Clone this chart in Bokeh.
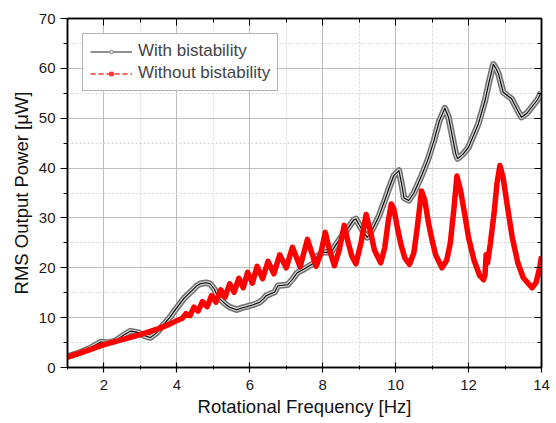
from bokeh.plotting import figure
from bokeh.models import (Range1d, LinearAxis, SingleIntervalTicker, Legend, LegendItem,
                          CustomLabelingPolicy)
from bokeh.embed import file_html
from bokeh.resources import INLINE

# ---- data ----
red_f = [1.0, 1.5, 2.0, 2.5, 3.0, 3.5, 3.8, 4.0, 4.15, 4.25, 4.36, 4.47, 4.58, 4.70, 4.83,
         4.95, 5.07, 5.20, 5.32, 5.45, 5.57, 5.70, 5.82, 5.94, 6.07, 6.20, 6.35, 6.50, 6.66,
         6.82, 7.00, 7.17, 7.38, 7.58, 7.82, 7.95, 8.07, 8.17, 8.32, 8.45, 8.59, 8.70, 8.80,
         8.91, 9.05, 9.19, 9.30, 9.42, 9.59, 9.70, 9.80, 9.88, 9.95, 10.05, 10.15, 10.25,
         10.38, 10.50, 10.60, 10.71, 10.80, 10.90, 11.00, 11.10, 11.27, 11.40, 11.50, 11.60,
         11.68, 11.78, 11.90, 12.00, 12.15, 12.30, 12.41, 12.45, 12.48, 12.52, 12.60, 12.70,
         12.78, 12.86, 12.95, 13.05, 13.20, 13.35, 13.50, 13.74, 13.85, 13.95, 14.00]
red_p = [2.1, 3.3, 4.6, 5.6, 6.6, 7.8, 8.7, 9.4, 9.9, 10.8, 10.4, 12.1, 11.3, 13.2, 12.2,
         14.4, 13.1, 15.6, 14.1, 16.8, 15.1, 17.9, 16.0, 19.1, 16.9, 20.3, 17.8, 21.3, 18.8,
         22.6, 20.0, 24.1, 20.2, 25.7, 20.3, 23.0, 27.1, 24.0, 20.4, 23.5, 28.5, 25.0, 22.3,
         20.8, 25.0, 30.7, 27.5, 23.5, 21.0, 24.0, 29.5, 32.8, 31.8, 28.0, 24.5, 22.0,
         20.7, 23.0, 28.5, 35.4, 33.5, 29.0, 25.5, 22.5, 20.0, 21.5, 25.0, 32.0,
         38.4, 35.5, 30.5, 26.0, 21.5, 18.5, 17.6, 18.5, 22.6, 21.0, 25.0, 31.0,
         37.0, 40.5, 38.0, 33.0, 26.0, 21.0, 18.0, 16.0, 17.0, 20.0, 22.3]

black_f = [1.0, 1.3, 1.6, 1.91, 2.1, 2.3, 2.5, 2.73, 2.95, 3.1, 3.27, 3.45, 3.6, 3.8, 4.0,
           4.2, 4.4, 4.55, 4.64, 4.80, 4.91, 5.02, 5.13, 5.23, 5.35, 5.45, 5.64, 5.80, 5.91,
           6.1, 6.27, 6.38, 6.45, 6.60, 6.68, 6.77, 7.04, 7.18, 7.30, 7.50, 7.73, 7.85, 8.00,
           8.23, 8.35, 8.50, 8.70, 8.85, 8.91, 9.00, 9.09, 9.22, 9.35, 9.55, 9.70, 9.82, 9.95,
           10.09, 10.16, 10.23, 10.36, 10.50, 10.73, 10.90, 11.05, 11.20, 11.35, 11.45, 11.55,
           11.65, 11.70, 11.85, 12.00, 12.27, 12.45, 12.55, 12.68, 12.75, 12.82, 12.95, 13.18,
           13.35, 13.45, 13.60, 13.73, 13.88, 14.00]
black_p = [2.2, 2.9, 3.8, 5.1, 5.0, 5.3, 6.3, 7.3, 7.0, 6.4, 6.0, 7.0, 8.3, 10.0, 12.0,
           13.9, 15.3, 16.4, 16.8, 17.0, 16.8, 15.8, 14.1, 13.4, 12.6, 12.1, 11.6, 12.0, 12.2,
           12.6, 13.1, 13.8, 14.4, 14.9, 15.1, 16.4, 16.6, 17.8, 19.0, 19.8, 20.8, 22.3, 23.1,
           23.1, 24.5, 26.1, 28.0, 29.6, 29.8, 28.6, 27.5, 26.1, 27.5, 30.5, 33.5, 36.0, 38.5,
           39.5, 37.0, 34.0, 33.5, 35.0, 38.8, 42.0, 45.5, 49.5, 52.0, 50.2, 46.5,
           42.8, 41.9, 42.8, 44.2, 48.9, 53.5, 56.9, 60.8, 60.0, 58.9, 55.2, 53.9,
           51.5, 50.2, 51.0, 52.2, 53.6, 55.2]

x_label = "Rotational Frequency [Hz]"
y_label = "RMS Output Power [\u03bcW]"
series_names = ["With bistability", "Without bistability"]

FONT = "Liberation Sans"

p = figure(width=556, height=423, x_range=Range1d(1, 14), y_range=Range1d(0, 70),
           output_backend="svg", toolbar_location=None,
           min_border_left=67, min_border_right=12, min_border_top=18, min_border_bottom=56)
p.background_fill_color = "white"
p.border_fill_color = "white"
p.outline_line_color = "black"
p.outline_line_width = 1.5

xt = SingleIntervalTicker(interval=2, num_minor_ticks=2)
yt = SingleIntervalTicker(interval=10, num_minor_ticks=2)

for ax, t in ((p.xaxis[0], xt), (p.yaxis[0], yt)):
    ax.ticker = t
    ax.axis_line_width = 1.5
    ax.axis_line_color = "black"
    ax.major_tick_line_color = "black"
    ax.minor_tick_line_color = "black"
    ax.major_tick_line_width = 1.2
    ax.major_label_text_font = FONT
    ax.major_label_text_font_size = "15px"
    ax.major_label_text_color = "#1a1a1a"
    ax.axis_label_text_font = FONT
    ax.axis_label_text_font_size = "18.5px"
    ax.axis_label_text_font_style = "normal"
    ax.axis_label_text_color = "#111111"

p.xaxis.axis_label = x_label
p.yaxis.axis_label = y_label
p.xaxis.major_tick_in = 5
p.xaxis.major_tick_out = 5
p.xaxis.minor_tick_in = 2
p.xaxis.minor_tick_out = 2
p.xaxis.major_label_standoff = 7
p.xaxis.axis_label_standoff = 3
p.yaxis.major_tick_in = 0
p.yaxis.major_tick_out = 7
p.yaxis.minor_tick_in = 0
p.yaxis.minor_tick_out = 4
p.yaxis.major_label_standoff = 5
p.yaxis.axis_label_standoff = 4

no_labels = CustomLabelingPolicy(code="""
for (const i of indices) { indices.unset(i) }
return indices
""")

top = LinearAxis(ticker=xt, major_label_policy=no_labels, major_label_standoff=0,
                 major_tick_in=7, major_tick_out=0, minor_tick_in=4, minor_tick_out=0,
                 axis_line_width=1.5)
right = LinearAxis(ticker=yt, major_label_policy=no_labels, major_label_standoff=0,
                   major_tick_in=7, major_tick_out=0, minor_tick_in=4, minor_tick_out=0,
                   axis_line_width=1.5)
p.add_layout(top, "above")
p.add_layout(right, "right")

for g, t in ((p.xgrid[0], xt), (p.ygrid[0], yt)):
    g.ticker = t
    g.grid_line_color = "#bdbdbd"
    g.grid_line_width = 1
    g.minor_grid_line_color = "#d6d6d6"
    g.minor_grid_line_dash = "2 2"

# black series: hollow gray marker band with black line
p.line(black_f, black_p, color="#707070", line_width=6.5, line_join="round")
p.line(black_f, black_p, color="#d4d4d4", line_width=3.5, line_join="round")
p.line(black_f, black_p, color="black", line_width=1.1, line_join="round")
# red series
p.line(red_f, red_p, color="#ff0000", line_width=5.5, line_join="round")

# legend-only renderers placed outside the visible ranges
off = [-100]
lb_line = p.line(off, off, color="#222222", line_width=1.2)
lb_mark = p.scatter(off, off, marker="circle", size=3.5, fill_color="#dddddd",
                    line_color="#777777", line_width=0.8)
lr_line = p.line(off, off, color="#ff3030", line_width=1.5, line_dash="5 3")
lr_mark = p.scatter(off, off, marker="square", size=2.5, color="#ff3030")

legend = Legend(items=[LegendItem(label=series_names[0], renderers=[lb_line, lb_mark]),
                       LegendItem(label=series_names[1], renderers=[lr_line, lr_mark])],
                location="top_left", label_text_font=FONT, label_text_font_size="17px",
                glyph_width=42, glyph_height=9, label_height=20, spacing=2,
                padding=7, margin=15, label_standoff=6,
                border_line_color="#666666", border_line_width=1,
                background_fill_color="white", background_fill_alpha=1)
p.add_layout(legend)

open("out.html", "w").write(file_html(p, INLINE))
